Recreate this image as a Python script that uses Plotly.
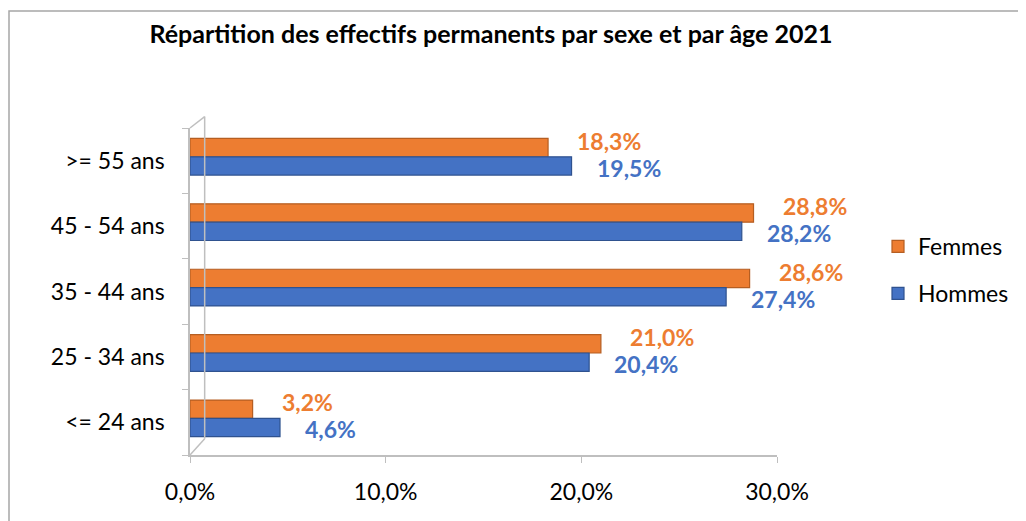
import plotly.graph_objects as go

categories = ["<= 24 ans", "25 - 34 ans", "35 - 44 ans", "45 - 54 ans", ">= 55 ans"]
femmes = [3.2, 21.0, 28.6, 28.8, 18.3]
hommes = [4.6, 20.4, 27.4, 28.2, 19.5]
x_ticks = [0, 10, 20, 30]
x_tick_labels = ["0,0%", "10,0%", "20,0%", "30,0%"]

ORANGE = "#ED7D31"
BLUE = "#4472C4"
FONT = "Lato, Calibri, Carlito, sans-serif"

# page body adds an 8px offset; layout is expressed in figure pixels
L, R, T, B = 182, 257, 120, 74
PW = 1026 - L - R
PH = 521 - T - B

fig = go.Figure()
fig.add_trace(go.Bar(
    y=categories, x=femmes, orientation="h", name="Femmes",
    width=0.28, offset=0.06,
    marker=dict(color=ORANGE, line=dict(color="#B55E22", width=1.2)),
    legendgroup="f",
))
fig.add_trace(go.Bar(
    y=categories, x=hommes, orientation="h", name="Hommes",
    width=0.28, offset=-0.22,
    marker=dict(color=BLUE, line=dict(color="#2F528F", width=1.2)),
    legendgroup="h",
))

annotations = []
for c, v in zip(categories, femmes):
    annotations.append(dict(
        x=v, y=c, xref="x", yref="y", text=f"{v:.1f}%".replace(".", ","),
        showarrow=False, xanchor="left", yanchor="middle", xshift=27, yshift=20,
        font=dict(family=FONT, size=23, color=ORANGE, weight="bold"),
    ))
for c, v in zip(categories, hommes):
    annotations.append(dict(
        x=v, y=c, xref="x", yref="y", text=f"{v:.1f}%".replace(".", ","),
        showarrow=False, xanchor="left", yanchor="middle", xshift=23, yshift=-7,
        font=dict(family=FONT, size=23, color=BLUE, weight="bold"),
    ))

wall = dict(color="#BFBFBF", width=1.5)
shapes = [
    # chart border
    dict(type="rect", xref="paper", yref="paper",
         x0=(1 - L) / PW, x1=(1060 - L) / PW,
         y0=(447 - 560) / PH, y1=(447 - 3) / PH,
         line=dict(color="#A6A6A6", width=1.5), layer="below"),
    # back wall
    dict(type="line", xref="paper", yref="paper", x0=0.025, x1=0.025,
         y0=0.05, y1=1.035, line=wall),
    dict(type="line", xref="paper", yref="paper", x0=0, x1=0.025,
         y0=1.0, y1=1.035, line=wall),
    dict(type="line", xref="paper", yref="paper", x0=0, x1=0.025,
         y0=0.0, y1=0.05, line=wall),
]

fig.update_layout(
    width=1026, height=521,
    margin=dict(l=L, r=R, t=T, b=B),
    paper_bgcolor="white", plot_bgcolor="white",
    barmode="overlay",
    font=dict(family=FONT, size=23, color="#000000"),
    title=dict(
        text="<b>Répartition des effectifs permanents par sexe et par âge 2021</b>",
        x=483 / 1026, xanchor="center", y=1 - 26 / 521, yanchor="middle",
        font=dict(family=FONT, size=25, color="#000000"),
    ),
    xaxis=dict(
        range=[0, 30], tickvals=x_ticks, ticktext=x_tick_labels,
        showgrid=False, zeroline=False, showline=True, linecolor="#BFBFBF",
        linewidth=1.5, ticks="outside", tickcolor="#BFBFBF", ticklen=6,
        tickfont=dict(size=23), ticklabelstandoff=10, fixedrange=True,
    ),
    yaxis=dict(
        categoryorder="array", categoryarray=categories, range=[-0.5, 4.5],
        showgrid=False, zeroline=False, showline=True, linecolor="#BFBFBF",
        linewidth=1.5, ticks="outside", tickson="boundaries", tickcolor="#BFBFBF",
        ticklen=6, tickfont=dict(size=23), ticklabelstandoff=19,
    ),
    legend=dict(
        x=(870 - L) / PW, y=(447 - 217) / PH, xanchor="left", yanchor="top",
        traceorder="grouped", tracegroupgap=14,
        font=dict(size=23), bgcolor="rgba(0,0,0,0)",
    ),
    annotations=annotations,
    shapes=shapes,
)

fig.write_html("out.html")
